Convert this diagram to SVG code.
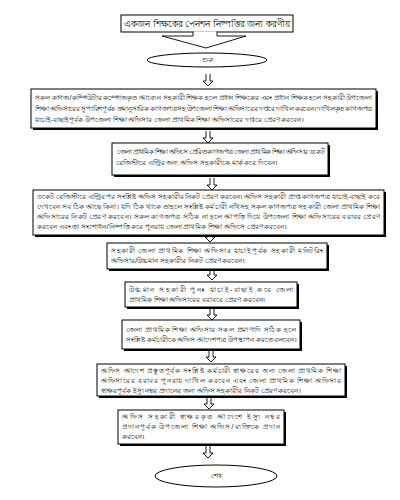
<svg xmlns="http://www.w3.org/2000/svg" width="400" height="500" viewBox="0 0 400 500">
<defs>
<style>
.bg{fill:#ffffff}
.box{fill:#ffffff;stroke:#000;stroke-width:1}
.sh{fill:#000}
.t{font-family:"Noto Sans","Liberation Sans",sans-serif;font-size:6.6px;fill:#111}
.tt{font-family:"Noto Sans","Liberation Sans",sans-serif;font-size:8.5px;fill:#000}
.ar{fill:none;stroke:#000;stroke-width:0.9}
</style>
<path id="arr" d="M-2,0 V7 H-5 L0,12 L5,7 H2 V0"/>
</defs>
<rect class="bg" width="400" height="500"/>

<g id="title">
<rect class="box" x="121" y="15" width="172" height="17"/>
<polyline fill="#fff" stroke="#000" stroke-width="0.9" points="193,32 193,36 162,36 206,48 246,36 217,36 217,32"/>
<line x1="194" y1="32" x2="216" y2="32" stroke="#fff" stroke-width="1.2"/>
<text class="tt" x="124" y="27" textLength="166" lengthAdjust="spacing">একজন শিক্ষকের পেনশন নিষ্পত্তির জন্য করণীয়</text>
</g>

<g id="start">
<ellipse class="box" cx="207" cy="60" rx="60" ry="7"/>
<text class="t" x="207" y="62" text-anchor="middle">শুরু</text>
</g>

<g id="connectors">
<use href="#arr" class="ar" x="208" y="74"/>
<use href="#arr" class="ar" x="208" y="131"/>
<use href="#arr" class="ar" x="212" y="178"/>
<use href="#arr" class="ar" x="210" y="230"/>
<use href="#arr" class="ar" x="212" y="268"/>
<use href="#arr" class="ar" x="212" y="308"/>
<use href="#arr" class="ar" x="211" y="350"/>
<use href="#arr" class="ar" x="209" y="397"/>
<use href="#arr" class="ar" x="208" y="446"/>
</g>

<g id="step1">
<rect class="sh" x="33" y="91" width="345" height="39"/>
<rect class="box" x="31" y="89" width="345" height="39"/>
<text class="t" x="35" y="100" textLength="337" lengthAdjust="spacing">সকল কাগজ/কম্পিউটার কম্পোজকৃত আবেদন সহকারী শিক্ষক হলে প্রধান শিক্ষকের এবং প্রধান শিক্ষক হলে সহকারী উপজেলা</text>
<text class="t" x="35" y="111" textLength="337" lengthAdjust="spacing">শিক্ষা অফিসারের সুপারিশপূর্বক ক্রমানুসারিক কাগজপত্রসহ উপজেলা শিক্ষা অফিসারের দপ্তরে দাখিল করবেন। দাখিলকৃত কাগজপত্র</text>
<text class="t" x="35" y="122">যাচাই-বাছাইপূর্বক উপজেলা শিক্ষা অফিসার জেলা প্রাথমিক শিক্ষা অফিসারের দপ্তরে প্রেরণ করবেন।</text>
</g>

<g id="step2">
<rect class="sh" x="114" y="145" width="216" height="32"/>
<rect class="box" x="112" y="143" width="216" height="32"/>
<text class="t" x="116" y="154" textLength="208" lengthAdjust="spacing">জেলা প্রাথমিক শিক্ষা অফিসে প্রেরিত কাগজপত্র জেলা প্রাথমিক শিক্ষা অফিসার ডকেট</text>
<text class="t" x="116" y="165">রেজিস্টারে এন্ট্রির জন্য অফিস সহকারীকে মার্ক করে দিবেন।</text>
</g>

<g id="step3">
<rect class="sh" x="35" y="192" width="351" height="45"/>
<rect class="box" x="33" y="190" width="351" height="45"/>
<text class="t" x="37" y="199" textLength="343" lengthAdjust="spacing">ডকেট রেজিস্টারে এন্ট্রির পর সংশ্লিষ্ট অফিস সহকারীর নিকট প্রেরণ করবেন। অফিস সহকারী প্রাপ্ত কাগজপত্র যাচাই-বাছাই করে</text>
<text class="t" x="37" y="209" textLength="343" lengthAdjust="spacing">দেখবেন সব ঠিক আছে কিনা। যদি ঠিক থাকে তাহলে সংশ্লিষ্ট কর্মচারী নথিসহ সকল কাগজপত্র সহকারী জেলা প্রাথমিক শিক্ষা</text>
<text class="t" x="37" y="219" textLength="343" lengthAdjust="spacing">অফিসারের নিকট প্রেরণ করবেন। সকল কাগজপত্র সঠিক না হলে আপত্তি দিয়ে উপজেলা শিক্ষা অফিসারের বরাবর প্রেরণ</text>
<text class="t" x="37" y="229">করবেন এবং তা সংশোধন/নিষ্পত্তি করে পুনরায় জেলা প্রাথমিক শিক্ষা অফিসে প্রেরণ করবেন।</text>
</g>

<g id="step4">
<rect class="sh" x="109" y="245" width="220" height="26"/>
<rect class="box" x="107" y="243" width="220" height="26"/>
<text class="t" x="111" y="253" textLength="212" lengthAdjust="spacing">সহকারী জেলা প্রাথমিক শিক্ষা অফিসার যাচাইপূর্বক সহকারী মনিটরিং</text>
<text class="t" x="111" y="263">অফিসার/উচ্চমান সহকারীর নিকট প্রেরণ করবেন।</text>
</g>

<g id="step5">
<rect class="sh" x="127" y="284" width="172" height="25"/>
<rect class="box" x="125" y="282" width="172" height="25"/>
<text class="t" x="129" y="292" textLength="164" lengthAdjust="spacing">উচ্চমান সহকারী পুনঃ যাচাই-বাছাই করে জেলা</text>
<text class="t" x="129" y="302">প্রাথমিক শিক্ষা অফিসারের বরাবরে প্রেরণ করবেন।</text>
</g>

<g id="step6">
<rect class="sh" x="124" y="322" width="178" height="29"/>
<rect class="box" x="122" y="320" width="178" height="29"/>
<text class="t" x="126" y="332" textLength="170" lengthAdjust="spacing">জেলা প্রাথমিক শিক্ষা অফিসার সকল প্রমাণাদি সঠিক হলে</text>
<text class="t" x="126" y="342">সংশ্লিষ্ট কর্মচারীকে অফিস আদেশপত্র উপস্থাপন করতে বলবেন।</text>
</g>

<g id="step7">
<rect class="sh" x="99" y="366" width="248" height="32"/>
<rect class="box" x="97" y="364" width="248" height="32"/>
<text class="t" x="101" y="373" textLength="240" lengthAdjust="spacing">অফিস আদেশ প্রস্তুতপূর্বক সংশ্লিষ্ট কর্মচারী স্বাক্ষরের জন্য জেলা প্রাথমিক শিক্ষা</text>
<text class="t" x="101" y="383" textLength="240" lengthAdjust="spacing">অফিসারের বরাবর পুনরায় দাখিল করবেন এবং জেলা প্রাথমিক শিক্ষা অফিসার</text>
<text class="t" x="101" y="393">স্বাক্ষরপূর্বক ইস্যু নম্বর প্রদানের জন্য অফিস সহকারীর নিকট প্রেরণ করবেন।</text>
</g>

<g id="step8">
<rect class="sh" x="120" y="412" width="166" height="34"/>
<rect class="box" x="118" y="410" width="166" height="34"/>
<text class="t" x="122" y="419" textLength="158" lengthAdjust="spacing">অফিস সহকারী স্বাক্ষরকৃত আদেশে ইস্যু নম্বর</text>
<text class="t" x="122" y="429" textLength="158" lengthAdjust="spacing">প্রদানপূর্বক উপজেলা শিক্ষা অফিস/ব্যক্তিকে প্রদান</text>
<text class="t" x="122" y="439">করবেন।</text>
</g>

<g id="end">
<ellipse class="box" cx="216" cy="476" rx="61" ry="11"/>
<text class="t" x="216" y="478" text-anchor="middle">শেষ</text>
</g>
</svg>
